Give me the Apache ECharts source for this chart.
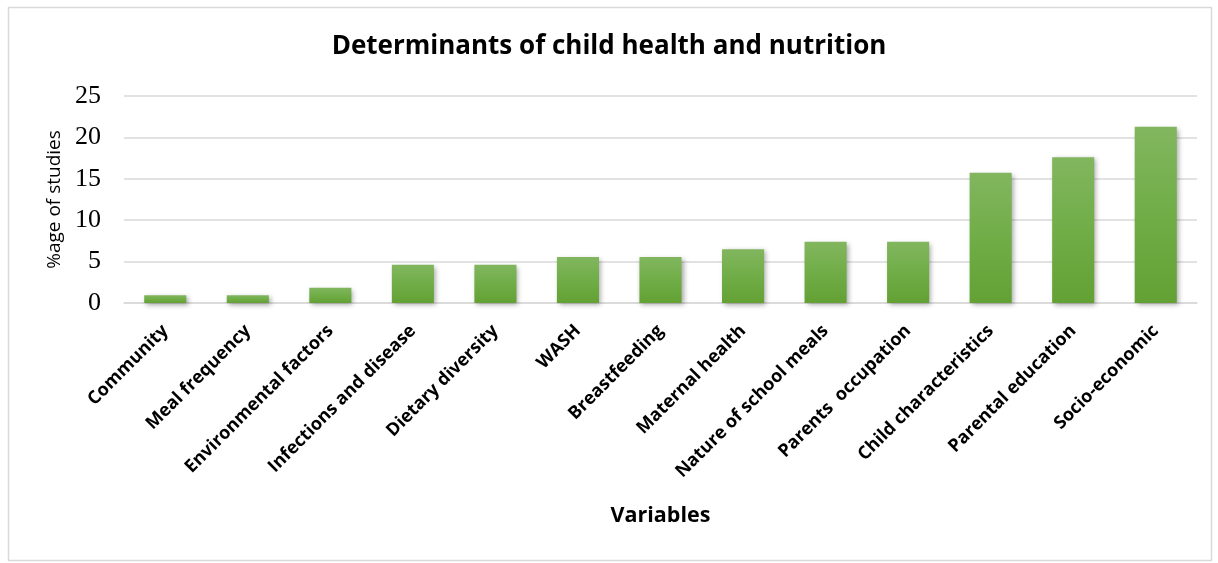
<!DOCTYPE html>
<html>
<head>
<meta charset="utf-8">
<script src="https://cdn.jsdelivr.net/npm/echarts@6/dist/echarts.min.js"></script>
<style>
html,body{margin:0;padding:0;background:#fff;}
#chart{width:1218px;height:563px;}
</style>
</head>
<body>
<div id="chart"></div>
<script>
const categories = ["Community","Meal frequency","Environmental factors","Infections and disease","Dietary diversity","WASH","Breastfeeding","Maternal health","Nature of school meals","Parents  occupation","Child characteristics","Parental education","Socio-economic"];
const values = [0.93,0.93,1.85,4.63,4.63,5.56,5.56,6.48,7.41,7.41,15.74,17.59,21.30];
const yTicks = [0,5,10,15,20,25];

const chart = echarts.init(document.getElementById('chart'), null, {renderer:'canvas'});
chart.setOption({
  animation:false,
  backgroundColor:'#fff',
  graphic:[{
    type:'rect', shape:{x:8.5,y:7.5,width:1203,height:553},
    style:{fill:'none',stroke:'#d9d9d9',lineWidth:1.5}, silent:true, z:-1
  }],
  title:{
    text:'Determinants of child health and nutrition',
    left:'center', top:29,
    textStyle:{fontFamily:'Open Sans',fontWeight:'bold',fontSize:26,color:'#000'}
  },
  grid:{left:124,right:21,top:96,bottom:260,containLabel:false},
  xAxis:{
    type:'category', data:categories,
    name:'Variables', nameLocation:'middle', nameGap:202,
    nameTextStyle:{fontFamily:'Open Sans',fontWeight:'bold',fontSize:21.5,color:'#000'},
    axisLine:{show:true,lineStyle:{color:'#d9d9d9',width:1.5}},
    axisTick:{show:false},
    axisLabel:{rotate:45,interval:0,margin:25,fontFamily:'Open Sans',fontWeight:'bold',fontSize:18,color:'#000'}
  },
  yAxis:{
    type:'value', min:yTicks[0], max:yTicks[yTicks.length-1], interval:5,
    name:'%age of studies', nameLocation:'middle', nameGap:53, nameRotate:90,
    nameTextStyle:{fontFamily:'Open Sans',fontSize:19,color:'#000'},
    axisLine:{show:false}, axisTick:{show:false},
    splitLine:{lineStyle:{color:'#d9d9d9',width:1.5}},
    axisLabel:{margin:23,fontFamily:'Liberation Serif',fontSize:26,color:'#000'}
  },
  series:[{
    type:'bar', data:values, barCategoryGap:'49%',
    itemStyle:{
      color:new echarts.graphic.LinearGradient(0,0,0,1,[
        {offset:0,color:'#82b65f'},{offset:0.5,color:'#70ad47'},{offset:1,color:'#63a134'}
      ]),
      shadowColor:'rgba(0,0,0,0.35)', shadowBlur:5, shadowOffsetX:2, shadowOffsetY:2
    }
  }]
});
</script>
</body>
</html>
